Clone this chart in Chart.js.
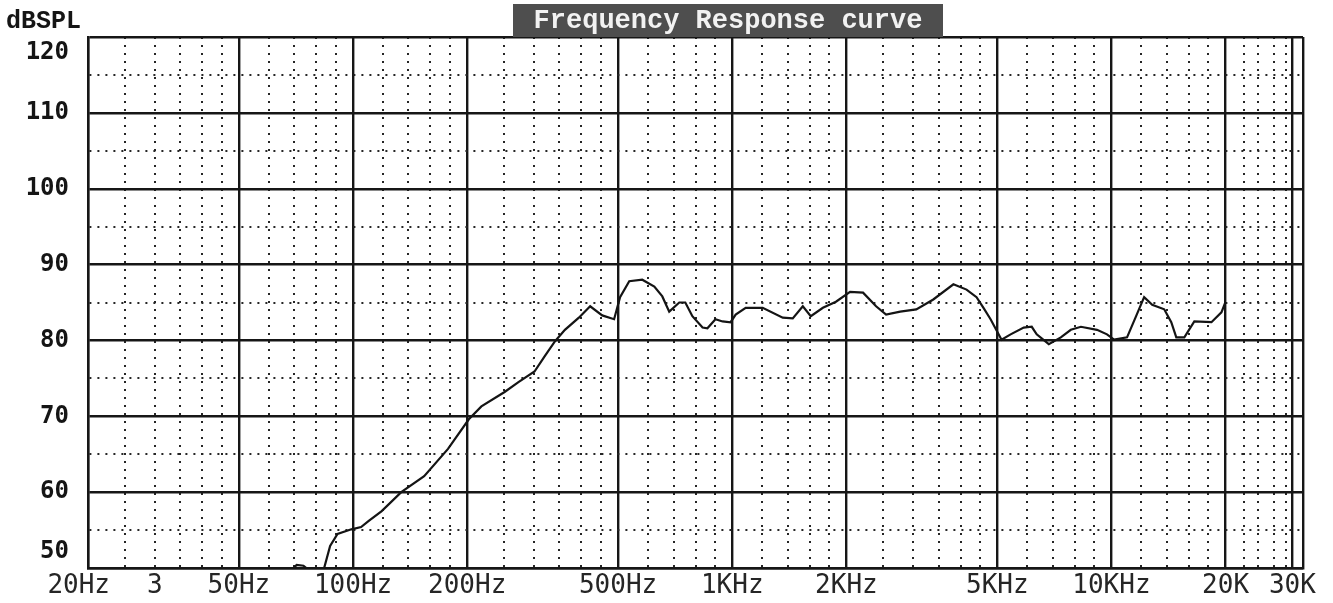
<!DOCTYPE html>
<html>
<head>
<meta charset="utf-8">
<script src="https://cdn.jsdelivr.net/npm/chart.js@4/dist/chart.umd.min.js"></script>
<style>
  html, body { margin: 0; padding: 0; background: #ffffff; }
  #wrap { position: relative; width: 1333px; height: 603px; }
</style>
</head>
<body>
<div id="wrap"><canvas id="c"></canvas></div>
<script>
// ---- data ----
const freqHz = [60, 68, 71, 74, 77, 80, 84, 87, 91, 99, 105, 110, 119, 134, 154, 178, 202, 218, 251, 273,
  301, 320, 341, 362, 394, 422, 454, 488, 506, 535, 579, 623, 654, 682, 725, 752, 785, 835, 860, 903,
  943, 990, 1021, 1085, 1203, 1359, 1444, 1535, 1611, 1734, 1877, 2045, 2213, 2395, 2545, 2773, 3057,
  3390, 3830, 4148, 4408, 4598, 4800, 5131, 5421, 5870, 6163, 6352, 6836, 7354, 7814, 8308, 9160, 9734,
  10160, 10994, 11615, 12196, 12808, 13778, 14380, 14825, 15567, 16540, 18354, 19500, 20000];
const splDb = [46, 49.4, 50.4, 50.3, 49.6, 48, 50.1, 52.9, 54.5, 55.1, 55.4, 56.2, 57.5, 60.0, 62.1, 65.7, 69.6, 71.3, 73.2, 74.5,
  75.9, 77.9, 79.9, 81.4, 83.0, 84.5, 83.3, 82.8, 85.7, 87.8, 88.0, 87.1, 85.8, 83.8, 85.0, 85.0, 83.2, 81.7, 81.6, 82.8,
  82.5, 82.4, 83.4, 84.3, 84.3, 83.0, 82.9, 84.5, 83.2, 84.3, 85.1, 86.4, 86.3, 84.5, 83.4, 83.8, 84.1,
  85.4, 87.4, 86.7, 85.7, 84.3, 82.8, 80.1, 80.8, 81.7, 81.8, 80.8, 79.5, 80.4, 81.4, 81.8, 81.4, 80.8,
  80.1, 80.4, 83.2, 85.7, 84.7, 84.1, 82.4, 80.4, 80.4, 82.5, 82.4, 83.7, 85.1];

// axis ticks / grid
const xMajorTicks = [20, 50, 100, 200, 500, 1000, 2000, 5000, 10000, 20000, 30000, 32000];
const xMinorTicks = [25, 30, 35, 40, 45, 60, 70, 80, 90, 120, 140, 160, 180, 250, 300, 350, 400, 450,
  600, 700, 800, 900, 1200, 1400, 1600, 1800, 2500, 3000, 3500, 4000, 4500,
  6000, 7000, 8000, 9000, 12000, 14000, 16000, 18000, 22300, 24400, 26800, 28900];
const xLabelValues = [20, 30, 50, 100, 200, 500, 1000, 2000, 5000, 10000, 20000, 30000];
const xLabelTexts = ['20Hz', '3', '50Hz', '100Hz', '200Hz', '500Hz', '1KHz', '2KHz', '5KHz', '10KHz', '20K', '30K'];
const yLabelValues = [120, 110, 100, 90, 80, 70, 60, 50];
const yLabelTexts = ['120', '110', '100', '90', '80', '70', '60', '50'];
const xMin = 20, xMax = 32000, yMin = 50, yMax = 120, yStep = 5;
const yAxisTitle = 'dBSPL';
const chartTitle = 'Frequency Response curve';

const points = freqHz.map((f, i) => ({ x: f, y: splDb[i] }));
const allXTicks = xMajorTicks.concat(xMinorTicks).sort((a, b) => a - b);

const INK = '#141414';
const dotted = [2, 6];

const decor = {
  id: 'decor',
  beforeDraw(chart) {
    const ctx = chart.ctx;
    ctx.save();
    ctx.fillStyle = '#ffffff';
    ctx.fillRect(0, 0, chart.width, chart.height);
    ctx.restore();
  },
  afterDraw(chart) {
    const { ctx, chartArea: { left, top, right, bottom }, scales: { x, y } } = chart;
    ctx.save();
    // y labels
    ctx.fillStyle = '#151515';
    ctx.font = 'bold 24px "DejaVu Sans Mono"';
    ctx.textAlign = 'right';
    ctx.textBaseline = 'middle';
    yLabelValues.forEach((v, i) => {
      let py = y.getPixelForValue(v);
      py = Math.min(Math.max(py, top + 16), bottom - 16);
      ctx.fillText(yLabelTexts[i], 69, py);
    });
    // x labels
    ctx.fillStyle = '#262626';
    ctx.font = '26px "DejaVu Sans Mono"';
    ctx.textBaseline = 'middle';
    xLabelValues.forEach((v, i) => {
      const px = x.getPixelForValue(v);
      if (i === 0) { ctx.textAlign = 'right'; ctx.fillText(xLabelTexts[i], px + 22, bottom + 18); }
      else { ctx.textAlign = 'center'; ctx.fillText(xLabelTexts[i], px, bottom + 18); }
    });
    // axis unit
    ctx.fillStyle = '#151515';
    ctx.font = 'bold 25px "Liberation Mono"';
    ctx.textAlign = 'left';
    ctx.fillText(yAxisTitle, 6, 22);
    // title box
    ctx.fillStyle = '#4e4e4e';
    ctx.fillRect(513, 4, 430, top - 4);
    ctx.fillStyle = '#f2f2f2';
    ctx.font = 'bold 27px "Liberation Mono"';
    ctx.textAlign = 'center';
    ctx.fillText(chartTitle, 728, 21);
    ctx.restore();
  }
};

new Chart(document.getElementById('c'), {
  type: 'line',
  data: {
    datasets: [{
      data: points,
      borderColor: INK,
      borderWidth: 2.2,
      pointRadius: 0,
      tension: 0,
      fill: false
    }]
  },
  options: {
    responsive: true,
    maintainAspectRatio: false,
    animation: false,
    devicePixelRatio: 1,
    layout: { padding: { left: 88, top: 37, right: 30, bottom: 35 } },
    plugins: { legend: { display: false }, tooltip: { enabled: false }, title: { display: false } },
    scales: {
      x: {
        type: 'logarithmic',
        min: xMin,
        max: xMax,
        afterBuildTicks: (scale) => { scale.ticks = allXTicks.map(v => ({ value: v })); },
        ticks: { display: false },
        grid: {
          drawTicks: false,
          color: (c) => (c.tick && xMajorTicks.includes(c.tick.value)) ? '#161616' : '#262626',
          lineWidth: (c) => (c.tick && xMajorTicks.includes(c.tick.value)) ? 2.4 : 2
        },
        border: {
          display: true, color: '#161616', width: 2.4,
          dash: (c) => (c.tick && !xMajorTicks.includes(c.tick.value)) ? dotted : []
        }
      },
      y: {
        type: 'linear',
        min: yMin,
        max: yMax,
        ticks: { display: false, stepSize: yStep },
        grid: {
          drawTicks: false,
          color: (c) => (c.tick && c.tick.value % 10 === 0) ? '#161616' : '#262626',
          lineWidth: (c) => (c.tick && c.tick.value % 10 === 0) ? 2.4 : 2
        },
        border: {
          display: true, color: '#161616', width: 2.4,
          dash: (c) => (c.tick && c.tick.value % 10 !== 0) ? dotted : []
        }
      }
    }
  },
  plugins: [decor]
});
</script>
</body>
</html>
